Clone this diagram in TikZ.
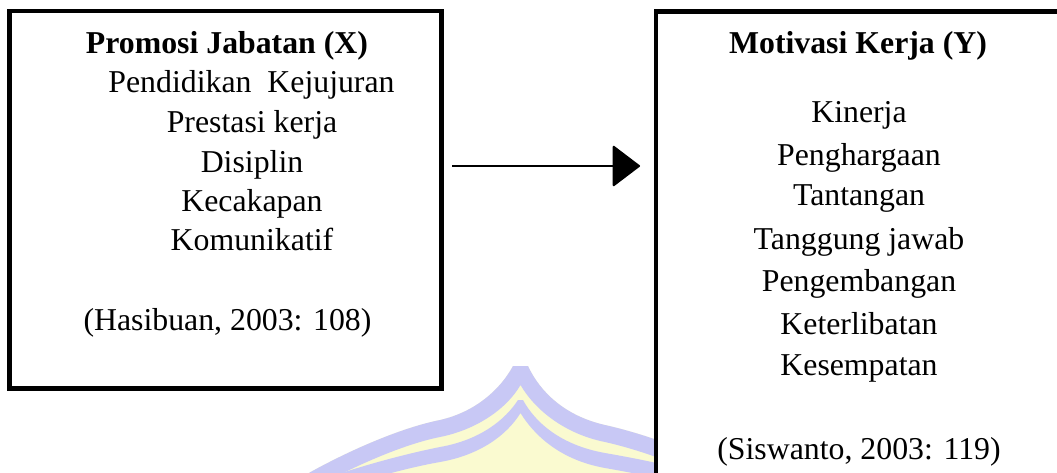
\documentclass[tikz,border=0pt]{standalone}
\usepackage{fontspec}
\setmainfont{Liberation Serif}
\usetikzlibrary{arrows.meta}
\definecolor{wmblue}{RGB}{200,200,245}
\definecolor{wmyellow}{RGB}{250,250,208}
\tikzset{
  box/.style={draw=black, line width=4.5pt, inner sep=0pt, outer sep=0pt, fill=white},
  txt/.style={anchor=base, inner sep=0pt, outer sep=0pt, font=\fontsize{31.8}{38}\selectfont},
  ttl/.style={txt, font=\fontsize{31.8}{38}\selectfont\bfseries},
  conn/.style={line width=2pt, -{Triangle[length=28pt,width=42pt,round]}}
}
\begin{document}
\begin{tikzpicture}[x=1pt,y=-1pt]
\useasboundingbox (0,0) rectangle (1057,472);
\clip (0,0) rectangle (1057,472);
\fill[white] (0,0) rectangle (1057,472);
% watermark: yellow ground
\fill[wmyellow] (300,478) .. controls (345,452) and (400,428) .. (440,420)
  .. controls (475,412) and (500,390) .. (513,366) -- (528,366)
  .. controls (540,392) and (565,416) .. (605,425)
  .. controls (645,434) and (696,452) .. (741,478) -- (741,520) -- (300,520) -- cycle;
% outer band
\fill[wmblue] (300,478) .. controls (345,452) and (400,428) .. (440,420)
  .. controls (475,412) and (500,390) .. (513,366) -- (528,366)
  .. controls (540,392) and (565,416) .. (605,425)
  .. controls (645,434) and (696,452) .. (741,478)
  -- (741,496) .. controls (696,470) and (645,451) .. (605,442)
  .. controls (565,434) and (535,410) .. (520.5,385)
  .. controls (506,410) and (475,430) .. (440,437)
  .. controls (400,445) and (345,470) .. (300,496) -- cycle;
% inner band
\fill[wmblue] (300,488) .. controls (345,470) and (400,455) .. (440,447)
  .. controls (480,440) and (505,420) .. (518,400) -- (523,400)
  .. controls (535,422) and (560,445) .. (605,453)
  .. controls (645,460) and (696,470) .. (741,488)
  -- (741,503) .. controls (696,485) and (645,475) .. (605,468)
  .. controls (560,460) and (534,435) .. (520.5,413)
  .. controls (507,435) and (480,455) .. (440,462)
  .. controls (400,469) and (345,485) .. (300,503) -- cycle;
% boxes
\node[box, minimum width=432pt, minimum height=377.5pt] (boxX) at (225.5,199.75) {};
\node[box, minimum width=406pt, minimum height=508.5pt] (boxY) at (859,265.75) {};
% left texts
\node[ttl] (tX) at (227,53) {Promosi Jabatan (X)};
\node[txt] (x1) at (251.5,92) {Pendidikan\ \ Kejujuran};
\node[txt] (x2) at (252,132) {Prestasi kerja};
\node[txt] (x3) at (252,172) {Disiplin};
\node[txt] (x4) at (252,211) {Kecakapan};
\node[txt] (x5) at (252,250) {Komunikatif};
\node[txt] (xs) at (227.5,330) {(Hasibuan, 2003: 108)};
% right texts
\node[ttl] (tY) at (858,53) {Motivasi Kerja (Y)};
\node[txt] (y1) at (859,122) {Kinerja};
\node[txt] (y2) at (859,165) {Penghargaan};
\node[txt] (y3) at (859,205) {Tantangan};
\node[txt] (y4) at (859,249) {Tanggung jawab};
\node[txt] (y5) at (859,291) {Pengembangan};
\node[txt] (y6) at (859,334) {Keterlibatan};
\node[txt] (y7) at (859,375) {Kesempatan};
\node[txt] (ys) at (859,459) {(Siswanto, 2003: 119)};
% connector
\coordinate (aS) at (452,166);
\coordinate (aE) at (640,166);
\draw[conn] (aS) -- (aE);
\end{tikzpicture}
\end{document}
